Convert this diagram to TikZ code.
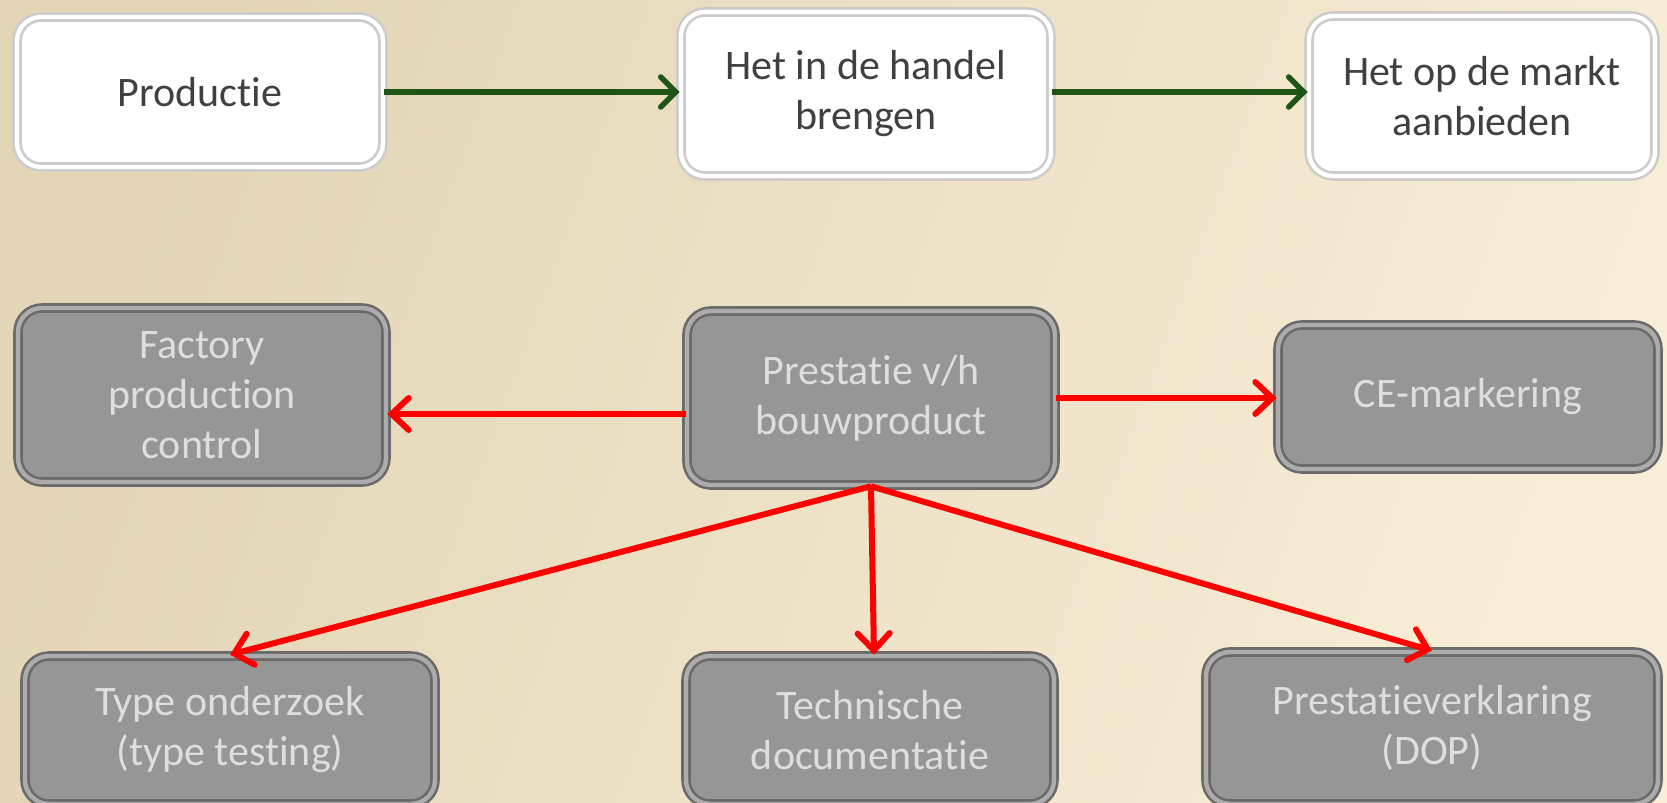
\documentclass[tikz,border=0pt]{standalone}
\usepackage{fontspec}
\setmainfont[Ligatures=NoCommon]{Carlito}
\usepackage{xcolor}
\usetikzlibrary{arrows.meta, positioning, shadows}
\definecolor{bgLeft}{HTML}{E2D6B6}
\definecolor{bgRight}{HTML}{F8EDD6}
\definecolor{boxGray}{HTML}{969696}
\definecolor{rimGray}{HTML}{6A6A6A}
\definecolor{txtGray}{HTML}{DEDEDE}
\definecolor{txtDark}{HTML}{404040}
\definecolor{flowGreen}{HTML}{1F5514}
\tikzset{
    stagebox/.style={rectangle, rounded corners=12pt, align=center, fill=white,
        draw=gray!40, line width=1.3pt, double=white, double distance=2.2pt,
        text=txtDark, font=\fontsize{21}{25}\selectfont,
        drop shadow={opacity=0.35, shadow xshift=1pt, shadow yshift=-2pt}},
    dutybox/.style={rectangle, rounded corners=12pt, align=center, fill=boxGray,
        draw=rimGray, line width=1.3pt, double=gray!65, double distance=2.2pt,
        text=txtGray, font=\fontsize{21}{25}\selectfont,
        drop shadow={opacity=0.35, shadow xshift=1pt, shadow yshift=-2pt}},
    flowarrow/.style={-{Straight Barb[length=7.5pt, width=15pt, line cap=round]}, line width=2.8pt, flowGreen},
    dutyarrow/.style={-{Straight Barb[length=8.5pt, width=16pt, line cap=round]}, line width=3pt, red},
}
\begin{document}
\begin{tikzpicture}[x=0.5pt, y=-0.5pt]
    \shade[left color=bgLeft, right color=bgRight, shading angle=70] (0,0) rectangle (1667,803);
    \useasboundingbox (0,0) rectangle (1667,803);
    \clip (0,0) rectangle (1667,803);

    % bovenste rij
    \node[stagebox, minimum width=183pt, minimum height=75pt] (prod) at (200,92) {Productie};
    \node[stagebox, minimum width=185pt, minimum height=82pt] (handel) at (866,94) {Het in de handel\\brengen};
    \node[stagebox, minimum width=173pt, minimum height=80pt] (markt) at (1482,96) {Het op de markt\\aanbieden};

    % middelste rij
    \node[dutybox, minimum width=184pt, minimum height=87pt] (fpc) at (202,395) {Factory\\production\\control};
    \node[dutybox, minimum width=184pt, minimum height=87pt] (prest) at (871,398) {Prestatie v/h\\bouwproduct};
    \node[dutybox, minimum width=190pt, minimum height=72pt] (ce) at (1468,397) {CE-markering};

    % onderste rij
    \node[dutybox, minimum width=205pt, minimum height=74pt] (type) at (230,730) {Type onderzoek\\(type testing)};
    \node[dutybox, minimum width=184pt, minimum height=74pt] (tech) at (870,730) {Technische\\documentatie};
    \node[dutybox, minimum width=226pt, minimum height=76pt] (dop) at (1432,728) {Prestatieverklaring\\(DOP)};

    \draw[flowarrow] (prod.east) -- (prod.east -| handel.west);
    \draw[flowarrow] (handel.east |- prod.east) -- (handel.east |- prod.east -| markt.west);

    \draw[dutyarrow] ([yshift=-8pt]prest.west) -- ([yshift=-8pt]prest.west -| fpc.east);
    \draw[dutyarrow] (prest.east) -- (prest.east -| ce.west);
    \draw[dutyarrow] (prest.south) -- (type.north);
    \draw[dutyarrow] (prest.south) -- ([xshift=2pt]tech.north);
    \draw[dutyarrow] (prest.south) -- (dop.north);
\end{tikzpicture}
\end{document}
